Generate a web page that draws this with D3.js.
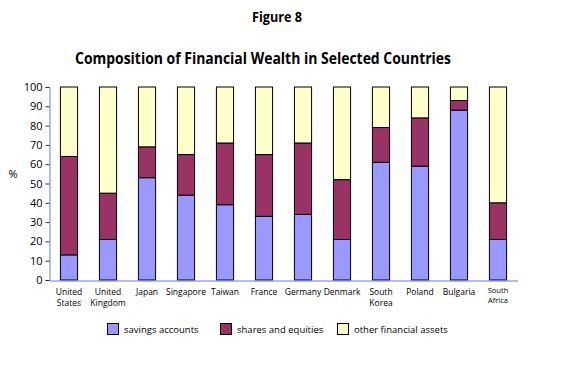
<!DOCTYPE html>
<html><head><meta charset="utf-8">
<script src="https://cdn.jsdelivr.net/npm/d3@7"></script>
<style>body{margin:0;background:#fff}svg{display:block}</style>
</head><body>
<script>
const categories = [["United","States"],["United","Kingdom"],["Japan"],["Singapore"],["Taiwan"],["France"],["Germany"],["Denmark"],["South","Korea"],["Poland"],["Bulgaria"],["South","Africa"]];
const savings = [13,21,53,44,39,33,34,21,61,59,88,21];
const shares  = [51,24,16,21,32,32,37,31,18,25,5,19];
const other   = [36,55,31,35,29,35,29,48,21,16,7,60];
const seriesNames = ["savings accounts","shares and equities","other financial assets"];
const colors = ["#9999ff","#993366","#ffffcc"];
const yTicks = [0,10,20,30,40,50,60,70,80,90,100];

const W=573,H=367;
const svg=d3.select("body").append("svg").attr("width",W).attr("height",H);
const font="'Open Sans', sans-serif";
const x=d3.scaleBand().domain(d3.range(categories.length)).range([49.5,517.5]).paddingInner(0.56).paddingOuter(0.28);
const y=d3.scaleLinear().domain([0,100]).range([280,87]);

const data=categories.map((c,i)=>({i,savings:savings[i],shares:shares[i],other:other[i]}));
const stack=d3.stack().keys(["savings","shares","other"])(data);

svg.append("text").attr("x",277).attr("y",22).attr("text-anchor","middle").attr("font-family",font).attr("font-weight","bold").attr("font-size",15)
  .attr("textLength",50).attr("lengthAdjust","spacingAndGlyphs").text("Figure 8");
svg.append("text").attr("x",263).attr("y",64).attr("text-anchor","middle").attr("font-family",font).attr("font-weight","bold").attr("font-size",16.5)
  .attr("textLength",376).attr("lengthAdjust","spacingAndGlyphs").text("Composition of Financial Wealth in Selected Countries");

stack.forEach((s,k)=>{
  svg.append("g").selectAll("rect").data(s).join("rect")
    .attr("x",d=>x(d.data.i)).attr("width",x.bandwidth())
    .attr("y",d=>y(d[1])).attr("height",d=>y(d[0])-y(d[1]))
    .attr("fill",colors[k]).attr("stroke","#000").attr("stroke-width",1);
});

const yAxis=svg.append("g").attr("transform","translate(49.5,0)")
  .call(d3.axisLeft(y).tickValues(yTicks).tickSize(4).tickPadding(3));
yAxis.select(".domain").attr("stroke","#5b7fe6");
yAxis.selectAll(".tick line").attr("stroke","#333");
yAxis.selectAll("text").attr("font-family",font).attr("font-size",11).attr("fill","#000");

const xAxis=svg.append("g").attr("transform","translate(0,280.5)")
  .call(d3.axisBottom(x).tickSize(0).tickFormat(""));
xAxis.select(".domain").attr("stroke","#5b7fe6");

categories.forEach((c,i)=>{
  const small=(i===11);
  const cx=x(i)+x.bandwidth()/2;
  const t=svg.append("text").attr("text-anchor","middle").attr("font-family",font).attr("font-size",small?7.5:8.5)
    .attr("x",cx).attr("y",small?293:295);
  c.forEach((line,j)=>t.append("tspan").attr("x",cx).attr("dy",j===0?0:(small?10:11)).text(line));
});

svg.append("text").attr("x",13).attr("y",178).attr("text-anchor","middle").attr("font-family",font).attr("font-size",11).text("%");

const legX=[107,220,337];
seriesNames.forEach((n,k)=>{
  svg.append("rect").attr("x",legX[k]+0.5).attr("y",323.5).attr("width",11).attr("height",11).attr("fill",colors[k]).attr("stroke","#000");
  svg.append("text").attr("x",legX[k]+17).attr("y",333).attr("font-family",font).attr("font-size",9.5).text(n);
});
</script>
</body></html>
